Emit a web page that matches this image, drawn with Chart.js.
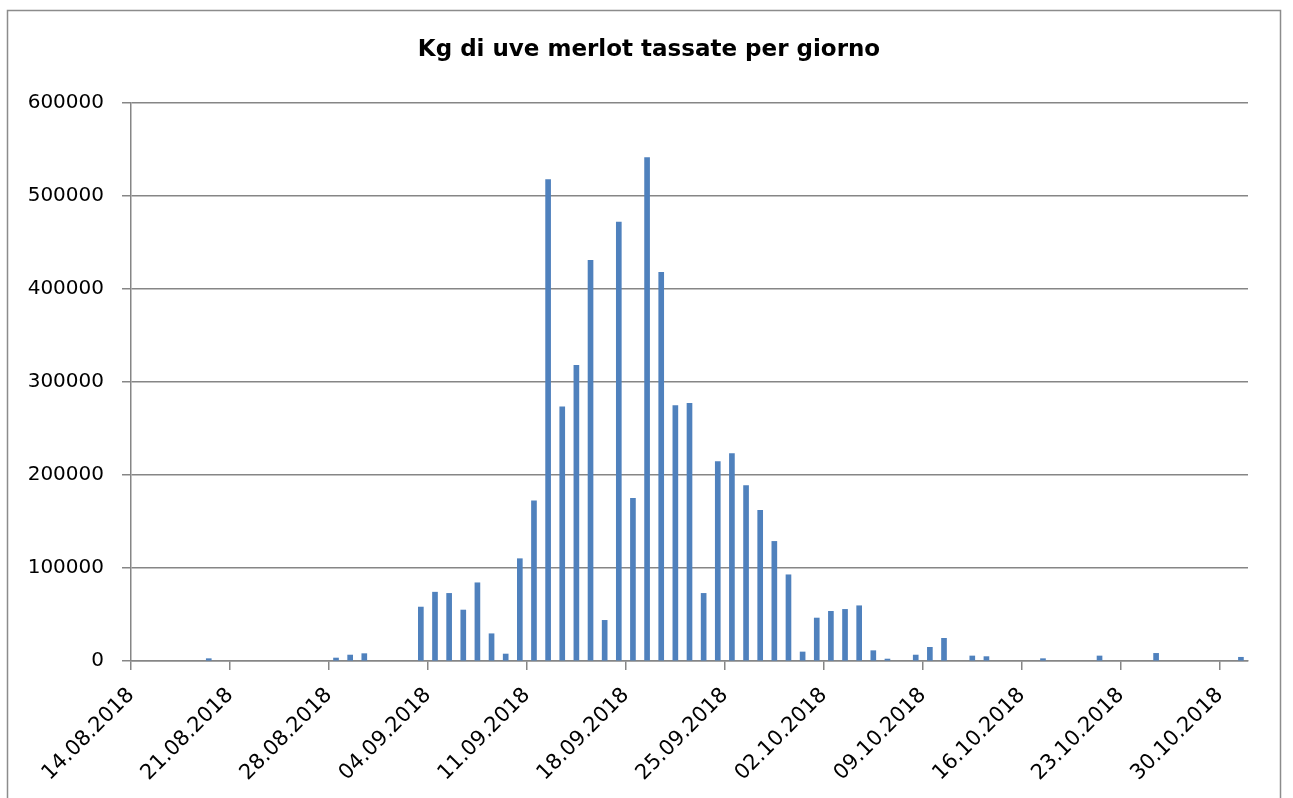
<!DOCTYPE html>
<html>
<head>
<meta charset="utf-8">
<script src="https://cdn.jsdelivr.net/npm/chart.js@4/dist/chart.umd.min.js"></script>
<style>
  body { margin: 0; background: #fff; }
  #wrap { width: 1293px; height: 798px; }
</style>
</head>
<body>
<div id="wrap"><canvas id="myChart" width="1293" height="798"></canvas></div>
<script>
// giorni con conferimenti e kg tassati
var dates = ["19.08.2018", "28.08.2018", "29.08.2018", "30.08.2018",
  "03.09.2018", "04.09.2018", "05.09.2018", "06.09.2018", "07.09.2018", "08.09.2018", "09.09.2018",
  "10.09.2018", "11.09.2018", "12.09.2018", "13.09.2018", "14.09.2018", "15.09.2018", "16.09.2018",
  "17.09.2018", "18.09.2018", "19.09.2018", "20.09.2018", "21.09.2018", "22.09.2018", "23.09.2018",
  "24.09.2018", "25.09.2018", "26.09.2018", "27.09.2018", "28.09.2018", "29.09.2018", "30.09.2018",
  "01.10.2018", "02.10.2018", "03.10.2018", "04.10.2018", "05.10.2018", "06.10.2018",
  "08.10.2018", "09.10.2018", "10.10.2018", "12.10.2018", "13.10.2018",
  "17.10.2018", "21.10.2018", "25.10.2018", "31.10.2018"];
var kgValues = [2500, 3200, 6400, 7900,
  58000, 74000, 72700, 54800, 84100, 29300, 7500,
  110000, 172200, 517700, 273200, 318000, 430700, 43700,
  471900, 174800, 541400, 417800, 274600, 277100, 72700,
  214500, 223100, 188700, 161900, 128600, 92700, 9700,
  46200, 53400, 55500, 59400, 11100, 2100,
  6400, 14700, 24400, 5400, 4700,
  2500, 5400, 8200, 4000];
var xTickLabels = ["14.08.2018", "21.08.2018", "28.08.2018", "04.09.2018", "11.09.2018", "18.09.2018",
  "25.09.2018", "02.10.2018", "09.10.2018", "16.10.2018", "23.10.2018", "30.10.2018"];
var yTicks = [0, 100000, 200000, 300000, 400000, 500000, 600000];
var titleText = "Kg di uve merlot tassate per giorno";

var startDay = "14.08.2018";
var endDay = "01.11.2018";

function dayNum(s) {
  var p = s.split(".");
  return Date.UTC(+p[2], +p[1] - 1, +p[0]) / 86400000;
}
var day0 = dayNum(startDay);
// ogni barra al centro del suo giorno
var points = dates.map(function (d, i) {
  return { x: dayNum(d) - day0 + 0.5, y: kgValues[i] };
});

var gridGray = "#868686";
var font = "'DejaVu Sans'";

// cornice esterna e titolo centrato sull'area del grafico
var frame = {
  id: "frame",
  beforeDraw: function (c) {
    var ctx = c.ctx;
    ctx.save();
    ctx.fillStyle = "#fff";
    ctx.fillRect(0, 0, c.width, c.height);
    ctx.strokeStyle = "#8c8c8c";
    ctx.lineWidth = 1.5;
    ctx.strokeRect(7.5, 10.5, 1273, 800);
    ctx.fillStyle = "#000";
    ctx.font = "bold 23px " + font;
    ctx.textAlign = "center";
    ctx.textBaseline = "middle";
    ctx.fillText(titleText, 649, 50);
    ctx.restore();
  }
};

var chart = new Chart("myChart", {
  type: "bar",
  data: {
    datasets: [{
      data: points,
      backgroundColor: "#4F81BD",
      borderWidth: 0,
      barThickness: 5
    }]
  },
  plugins: [frame],
  options: {
    responsive: false,
    animation: false,
    layout: { padding: { left: 0, right: 45, top: 103, bottom: 0 } },
    plugins: {
      legend: { display: false },
      tooltip: { enabled: false },
      title: { display: false }
    },
    scales: {
      x: {
        type: "linear",
        offset: false,
        min: 0,
        max: dayNum(endDay) - day0,
        afterBuildTicks: function (s) {
          s.ticks = xTickLabels.map(function (l, i) { return { value: i * 7 }; });
        },
        afterFit: function (s) { s.height = 137; },
        ticks: {
          autoSkip: false,
          maxRotation: 45,
          minRotation: 45,
          padding: 13,
          color: "#000",
          font: { family: font, size: 21 },
          callback: function (v) { return xTickLabels[Math.round(v / 7)]; }
        },
        grid: {
          offset: false,
          drawOnChartArea: false,
          drawTicks: true,
          tickLength: 9,
          color: gridGray,
          lineWidth: 1.5
        },
        border: { display: true, color: gridGray, width: 1.5 }
      },
      y: {
        min: 0,
        max: 600000,
        afterBuildTicks: function (s) {
          s.ticks = yTicks.map(function (v) { return { value: v }; });
        },
        afterFit: function (s) { s.width = 131; },
        ticks: {
          padding: 18,
          color: "#000",
          font: { family: font, size: 20 },
          callback: function (v) { return String(v); }
        },
        grid: {
          color: gridGray,
          lineWidth: 1.5,
          tickLength: 9
        },
        border: { display: true, color: gridGray, width: 1.5 }
      }
    }
  }
});
</script>
</body>
</html>
